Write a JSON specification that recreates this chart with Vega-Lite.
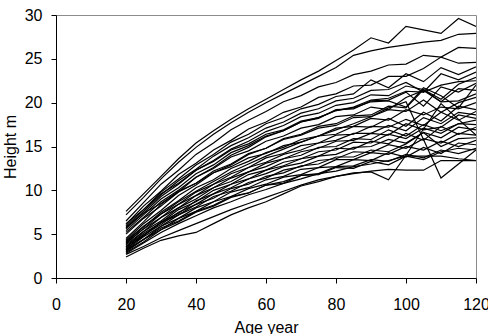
{
  "$schema": "https://vega.github.io/schema/vega-lite/v6.json",
  "width": 420,
  "height": 263,
  "autosize": {"type": "none"},
  "padding": {"left": 56, "top": 15, "right": 12, "bottom": 56},
  "background": "white",
  "config": {
    "font": "Liberation Sans",
    "view": {"stroke": "#8c8c8c", "strokeWidth": 1},
    "axis": {
      "grid": false,
      "domainColor": "black",
      "domainWidth": 1,
      "tickColor": "black",
      "tickSize": 5,
      "labelColor": "black",
      "labelFontSize": 16,
      "titleColor": "black",
      "titleFontSize": 16,
      "titleFontWeight": "normal"
    }
  },
  "data": {
    "values": [
      {"t":1,"a":20,"h":7.6},{"t":1,"a":25,"h":9.6},{"t":1,"a":30,"h":11.6},{"t":1,"a":35,"h":13.6},{"t":1,"a":40,"h":15.4},{"t":1,"a":45,"h":16.8},{"t":1,"a":50,"h":18.1},{"t":1,"a":55,"h":19.3},{"t":1,"a":60,"h":20.4},{"t":1,"a":65,"h":21.5},{"t":1,"a":70,"h":22.6},{"t":1,"a":75,"h":23.6},{"t":1,"a":80,"h":24.8},{"t":1,"a":85,"h":26.0},{"t":1,"a":90,"h":27.4},{"t":1,"a":95,"h":26.8},{"t":1,"a":100,"h":28.7},{"t":1,"a":105,"h":28.3},{"t":1,"a":110,"h":27.9},{"t":1,"a":115,"h":29.6},{"t":1,"a":120,"h":28.7},
      {"t":2,"a":20,"h":7.2},{"t":2,"a":25,"h":9.2},{"t":2,"a":30,"h":11.3},{"t":2,"a":35,"h":13.2},{"t":2,"a":40,"h":14.9},{"t":2,"a":45,"h":16.4},{"t":2,"a":50,"h":17.7},{"t":2,"a":55,"h":18.9},{"t":2,"a":60,"h":20.0},{"t":2,"a":65,"h":21.0},{"t":2,"a":70,"h":22.0},{"t":2,"a":75,"h":23.0},{"t":2,"a":80,"h":24.0},{"t":2,"a":85,"h":25.4},{"t":2,"a":90,"h":25.9},{"t":2,"a":95,"h":26.3},{"t":2,"a":100,"h":26.6},{"t":2,"a":105,"h":26.9},{"t":2,"a":110,"h":27.1},{"t":2,"a":115,"h":27.8},{"t":2,"a":120,"h":27.9},
      {"t":3,"a":20,"h":6.5},{"t":3,"a":25,"h":8.6},{"t":3,"a":30,"h":10.7},{"t":3,"a":35,"h":12.3},{"t":3,"a":40,"h":14.1},{"t":3,"a":45,"h":15.4},{"t":3,"a":50,"h":16.9},{"t":3,"a":55,"h":18.0},{"t":3,"a":60,"h":19.0},{"t":3,"a":65,"h":20.1},{"t":3,"a":70,"h":20.8},{"t":3,"a":75,"h":21.8},{"t":3,"a":80,"h":22.3},{"t":3,"a":85,"h":23.2},{"t":3,"a":90,"h":23.6},{"t":3,"a":95,"h":24.3},{"t":3,"a":100,"h":24.4},{"t":3,"a":105,"h":25.4},{"t":3,"a":110,"h":25.2},{"t":3,"a":115,"h":26.3},{"t":3,"a":120,"h":26.2},
      {"t":4,"a":20,"h":6.1},{"t":4,"a":25,"h":8.2},{"t":4,"a":30,"h":9.9},{"t":4,"a":35,"h":11.8},{"t":4,"a":40,"h":13.1},{"t":4,"a":45,"h":14.6},{"t":4,"a":50,"h":15.7},{"t":4,"a":55,"h":17.0},{"t":4,"a":60,"h":17.8},{"t":4,"a":65,"h":18.9},{"t":4,"a":70,"h":19.5},{"t":4,"a":75,"h":20.6},{"t":4,"a":80,"h":21.0},{"t":4,"a":85,"h":21.9},{"t":4,"a":90,"h":22.0},{"t":4,"a":95,"h":23.0},{"t":4,"a":100,"h":23.0},{"t":4,"a":105,"h":23.9},{"t":4,"a":110,"h":25.2},{"t":4,"a":115,"h":24.5},{"t":4,"a":120,"h":24.6},
      {"t":5,"a":20,"h":5.9},{"t":5,"a":25,"h":7.8},{"t":5,"a":30,"h":9.8},{"t":5,"a":35,"h":11.3},{"t":5,"a":40,"h":12.9},{"t":5,"a":45,"h":14.1},{"t":5,"a":50,"h":15.5},{"t":5,"a":55,"h":16.4},{"t":5,"a":60,"h":17.6},{"t":5,"a":65,"h":18.3},{"t":5,"a":70,"h":19.3},{"t":5,"a":75,"h":19.8},{"t":5,"a":80,"h":20.7},{"t":5,"a":85,"h":21.0},{"t":5,"a":90,"h":22.6},{"t":5,"a":95,"h":21.7},{"t":5,"a":100,"h":23.3},{"t":5,"a":105,"h":22.4},{"t":5,"a":110,"h":24.0},{"t":5,"a":115,"h":23.2},{"t":5,"a":120,"h":24.1},
      {"t":6,"a":20,"h":5.7},{"t":6,"a":25,"h":7.6},{"t":6,"a":30,"h":9.5},{"t":6,"a":35,"h":11.1},{"t":6,"a":40,"h":12.4},{"t":6,"a":45,"h":13.9},{"t":6,"a":50,"h":15.1},{"t":6,"a":55,"h":16.0},{"t":6,"a":60,"h":17.1},{"t":6,"a":65,"h":17.8},{"t":6,"a":70,"h":18.8},{"t":6,"a":75,"h":19.3},{"t":6,"a":80,"h":20.2},{"t":6,"a":85,"h":20.5},{"t":6,"a":90,"h":21.4},{"t":6,"a":95,"h":21.5},{"t":6,"a":100,"h":22.3},{"t":6,"a":105,"h":21.2},{"t":6,"a":110,"h":23.3},{"t":6,"a":115,"h":22.6},{"t":6,"a":120,"h":23.5},
      {"t":7,"a":20,"h":5.6},{"t":7,"a":25,"h":7.4},{"t":7,"a":30,"h":9.3},{"t":7,"a":35,"h":10.7},{"t":7,"a":40,"h":12.3},{"t":7,"a":45,"h":13.4},{"t":7,"a":50,"h":14.7},{"t":7,"a":55,"h":15.6},{"t":7,"a":60,"h":16.7},{"t":7,"a":65,"h":17.4},{"t":7,"a":70,"h":18.4},{"t":7,"a":75,"h":18.8},{"t":7,"a":80,"h":19.7},{"t":7,"a":85,"h":20.0},{"t":7,"a":90,"h":20.9},{"t":7,"a":95,"h":20.8},{"t":7,"a":100,"h":21.9},{"t":7,"a":105,"h":21.5},{"t":7,"a":110,"h":20.4},{"t":7,"a":115,"h":22.1},{"t":7,"a":120,"h":22.9},
      {"t":8,"a":20,"h":5.4},{"t":8,"a":25,"h":7.2},{"t":8,"a":30,"h":9.0},{"t":8,"a":35,"h":10.3},{"t":8,"a":40,"h":11.9},{"t":8,"a":45,"h":12.9},{"t":8,"a":50,"h":14.3},{"t":8,"a":55,"h":15.1},{"t":8,"a":60,"h":16.2},{"t":8,"a":65,"h":16.8},{"t":8,"a":70,"h":17.8},{"t":8,"a":75,"h":18.2},{"t":8,"a":80,"h":19.2},{"t":8,"a":85,"h":19.3},{"t":8,"a":90,"h":20.2},{"t":8,"a":95,"h":20.3},{"t":8,"a":100,"h":21.2},{"t":8,"a":105,"h":19.6},{"t":8,"a":110,"h":21.8},{"t":8,"a":115,"h":21.2},{"t":8,"a":120,"h":22.2},
      {"t":9,"a":20,"h":5.2},{"t":9,"a":25,"h":6.9},{"t":9,"a":30,"h":8.7},{"t":9,"a":35,"h":10.0},{"t":9,"a":40,"h":11.5},{"t":9,"a":45,"h":12.5},{"t":9,"a":50,"h":13.8},{"t":9,"a":55,"h":14.5},{"t":9,"a":60,"h":15.6},{"t":9,"a":65,"h":16.2},{"t":9,"a":70,"h":17.1},{"t":9,"a":75,"h":17.5},{"t":9,"a":80,"h":18.4},{"t":9,"a":85,"h":18.6},{"t":9,"a":90,"h":19.5},{"t":9,"a":95,"h":19.2},{"t":9,"a":100,"h":20.6},{"t":9,"a":105,"h":21.4},{"t":9,"a":110,"h":20.1},{"t":9,"a":115,"h":21.6},{"t":9,"a":120,"h":21.4},
      {"t":10,"a":20,"h":5.0},{"t":10,"a":25,"h":6.8},{"t":10,"a":30,"h":8.2},{"t":10,"a":35,"h":9.8},{"t":10,"a":40,"h":10.8},{"t":10,"a":45,"h":12.2},{"t":10,"a":50,"h":13.0},{"t":10,"a":55,"h":14.2},{"t":10,"a":60,"h":14.8},{"t":10,"a":65,"h":15.8},{"t":10,"a":70,"h":16.3},{"t":10,"a":75,"h":17.1},{"t":10,"a":80,"h":17.4},{"t":10,"a":85,"h":18.3},{"t":10,"a":90,"h":18.4},{"t":10,"a":95,"h":19.2},{"t":10,"a":100,"h":19.0},{"t":10,"a":105,"h":20.3},{"t":10,"a":110,"h":18.9},{"t":10,"a":115,"h":20.0},{"t":10,"a":120,"h":20.6},
      {"t":11,"a":20,"h":5.8},{"t":11,"a":25,"h":7.4},{"t":11,"a":30,"h":8.5},{"t":11,"a":35,"h":9.9},{"t":11,"a":40,"h":10.8},{"t":11,"a":45,"h":12.0},{"t":11,"a":50,"h":12.7},{"t":11,"a":55,"h":13.7},{"t":11,"a":60,"h":14.2},{"t":11,"a":65,"h":15.1},{"t":11,"a":70,"h":15.5},{"t":11,"a":75,"h":16.2},{"t":11,"a":80,"h":16.4},{"t":11,"a":85,"h":17.3},{"t":11,"a":90,"h":17.2},{"t":11,"a":95,"h":18.2},{"t":11,"a":100,"h":17.3},{"t":11,"a":105,"h":18.9},{"t":11,"a":110,"h":17.9},{"t":11,"a":115,"h":19.6},{"t":11,"a":120,"h":19.2},
      {"t":12,"a":20,"h":6.2},{"t":12,"a":25,"h":7.8},{"t":12,"a":30,"h":9.6},{"t":12,"a":35,"h":10.8},{"t":12,"a":40,"h":12.3},{"t":12,"a":45,"h":13.3},{"t":12,"a":50,"h":14.6},{"t":12,"a":55,"h":15.3},{"t":12,"a":60,"h":16.4},{"t":12,"a":65,"h":16.9},{"t":12,"a":70,"h":17.9},{"t":12,"a":75,"h":18.3},{"t":12,"a":80,"h":19.1},{"t":12,"a":85,"h":19.4},{"t":12,"a":90,"h":20.1},{"t":12,"a":95,"h":20.2},{"t":12,"a":100,"h":19.5},{"t":12,"a":105,"h":21.7},{"t":12,"a":110,"h":20.8},{"t":12,"a":115,"h":19.4},{"t":12,"a":120,"h":22.0},
      {"t":13,"a":20,"h":4.5},{"t":13,"a":25,"h":6.4},{"t":13,"a":30,"h":8.4},{"t":13,"a":35,"h":9.8},{"t":13,"a":40,"h":11.5},{"t":13,"a":45,"h":12.6},{"t":13,"a":50,"h":14.0},{"t":13,"a":55,"h":14.9},{"t":13,"a":60,"h":16.1},{"t":13,"a":65,"h":16.8},{"t":13,"a":70,"h":17.8},{"t":13,"a":75,"h":18.3},{"t":13,"a":80,"h":19.1},{"t":13,"a":85,"h":19.5},{"t":13,"a":90,"h":20.3},{"t":13,"a":95,"h":20.5},{"t":13,"a":100,"h":21.3},{"t":13,"a":105,"h":21.2},{"t":13,"a":110,"h":22.0},{"t":13,"a":115,"h":22.4},{"t":13,"a":120,"h":22.5},
      {"t":14,"a":20,"h":4.3},{"t":14,"a":25,"h":6.2},{"t":14,"a":30,"h":7.7},{"t":14,"a":35,"h":9.4},{"t":14,"a":40,"h":10.6},{"t":14,"a":45,"h":12.0},{"t":14,"a":50,"h":12.9},{"t":14,"a":55,"h":14.1},{"t":14,"a":60,"h":14.8},{"t":14,"a":65,"h":15.9},{"t":14,"a":70,"h":16.4},{"t":14,"a":75,"h":17.3},{"t":14,"a":80,"h":17.6},{"t":14,"a":85,"h":18.5},{"t":14,"a":90,"h":18.6},{"t":14,"a":95,"h":19.6},{"t":14,"a":100,"h":19.4},{"t":14,"a":105,"h":21.5},{"t":14,"a":110,"h":20.1},{"t":14,"a":115,"h":20.2},{"t":14,"a":120,"h":21.0},
      {"t":15,"a":20,"h":4.1},{"t":15,"a":25,"h":5.8},{"t":15,"a":30,"h":7.5},{"t":15,"a":35,"h":8.8},{"t":15,"a":40,"h":10.3},{"t":15,"a":45,"h":11.2},{"t":15,"a":50,"h":12.5},{"t":15,"a":55,"h":13.3},{"t":15,"a":60,"h":14.3},{"t":15,"a":65,"h":14.9},{"t":15,"a":70,"h":15.8},{"t":15,"a":75,"h":16.2},{"t":15,"a":80,"h":17.1},{"t":15,"a":85,"h":17.3},{"t":15,"a":90,"h":18.2},{"t":15,"a":95,"h":18.0},{"t":15,"a":100,"h":19.2},{"t":15,"a":105,"h":18.6},{"t":15,"a":110,"h":19.5},{"t":15,"a":115,"h":19.3},{"t":15,"a":120,"h":20.0},
      {"t":16,"a":20,"h":4.0},{"t":16,"a":25,"h":5.6},{"t":16,"a":30,"h":7.3},{"t":16,"a":35,"h":8.4},{"t":16,"a":40,"h":9.8},{"t":16,"a":45,"h":10.7},{"t":16,"a":50,"h":11.9},{"t":16,"a":55,"h":12.6},{"t":16,"a":60,"h":13.7},{"t":16,"a":65,"h":14.2},{"t":16,"a":70,"h":15.1},{"t":16,"a":75,"h":15.4},{"t":16,"a":80,"h":16.3},{"t":16,"a":85,"h":16.4},{"t":16,"a":90,"h":17.3},{"t":16,"a":95,"h":17.2},{"t":16,"a":100,"h":18.1},{"t":16,"a":105,"h":17.4},{"t":16,"a":110,"h":18.9},{"t":16,"a":115,"h":18.0},{"t":16,"a":120,"h":19.0},
      {"t":17,"a":20,"h":3.9},{"t":17,"a":25,"h":5.6},{"t":17,"a":30,"h":6.9},{"t":17,"a":35,"h":8.4},{"t":17,"a":40,"h":9.4},{"t":17,"a":45,"h":10.7},{"t":17,"a":50,"h":11.5},{"t":17,"a":55,"h":12.6},{"t":17,"a":60,"h":13.2},{"t":17,"a":65,"h":14.1},{"t":17,"a":70,"h":14.6},{"t":17,"a":75,"h":15.4},{"t":17,"a":80,"h":15.7},{"t":17,"a":85,"h":16.5},{"t":17,"a":90,"h":16.5},{"t":17,"a":95,"h":17.4},{"t":17,"a":100,"h":16.8},{"t":17,"a":105,"h":18.3},{"t":17,"a":110,"h":17.6},{"t":17,"a":115,"h":18.9},{"t":17,"a":120,"h":18.6},
      {"t":18,"a":20,"h":3.8},{"t":18,"a":25,"h":5.3},{"t":18,"a":30,"h":6.9},{"t":18,"a":35,"h":8.0},{"t":18,"a":40,"h":9.4},{"t":18,"a":45,"h":10.3},{"t":18,"a":50,"h":11.4},{"t":18,"a":55,"h":12.1},{"t":18,"a":60,"h":13.1},{"t":18,"a":65,"h":13.6},{"t":18,"a":70,"h":14.4},{"t":18,"a":75,"h":14.8},{"t":18,"a":80,"h":15.6},{"t":18,"a":85,"h":15.7},{"t":18,"a":90,"h":16.5},{"t":18,"a":95,"h":16.3},{"t":18,"a":100,"h":17.6},{"t":18,"a":105,"h":16.9},{"t":18,"a":110,"h":17.2},{"t":18,"a":115,"h":18.6},{"t":18,"a":120,"h":18.2},
      {"t":19,"a":20,"h":3.6},{"t":19,"a":25,"h":5.3},{"t":19,"a":30,"h":6.5},{"t":19,"a":35,"h":8.0},{"t":19,"a":40,"h":9.0},{"t":19,"a":45,"h":10.3},{"t":19,"a":50,"h":11.0},{"t":19,"a":55,"h":12.1},{"t":19,"a":60,"h":12.7},{"t":19,"a":65,"h":13.6},{"t":19,"a":70,"h":14.0},{"t":19,"a":75,"h":14.9},{"t":19,"a":80,"h":15.0},{"t":19,"a":85,"h":15.9},{"t":19,"a":90,"h":15.8},{"t":19,"a":95,"h":16.9},{"t":19,"a":100,"h":16.2},{"t":19,"a":105,"h":17.5},{"t":19,"a":110,"h":16.8},{"t":19,"a":115,"h":17.6},{"t":19,"a":120,"h":18.0},
      {"t":20,"a":20,"h":3.5},{"t":20,"a":25,"h":5.1},{"t":20,"a":30,"h":6.3},{"t":20,"a":35,"h":7.8},{"t":20,"a":40,"h":8.7},{"t":20,"a":45,"h":10.0},{"t":20,"a":50,"h":10.7},{"t":20,"a":55,"h":11.8},{"t":20,"a":60,"h":12.3},{"t":20,"a":65,"h":13.2},{"t":20,"a":70,"h":13.6},{"t":20,"a":75,"h":14.4},{"t":20,"a":80,"h":14.6},{"t":20,"a":85,"h":15.5},{"t":20,"a":90,"h":15.4},{"t":20,"a":95,"h":16.4},{"t":20,"a":100,"h":15.9},{"t":20,"a":105,"h":17.1},{"t":20,"a":110,"h":16.5},{"t":20,"a":115,"h":17.6},{"t":20,"a":120,"h":17.5},
      {"t":21,"a":20,"h":3.4},{"t":21,"a":25,"h":4.8},{"t":21,"a":30,"h":6.4},{"t":21,"a":35,"h":7.4},{"t":21,"a":40,"h":8.8},{"t":21,"a":45,"h":9.6},{"t":21,"a":50,"h":10.7},{"t":21,"a":55,"h":11.3},{"t":21,"a":60,"h":12.3},{"t":21,"a":65,"h":12.8},{"t":21,"a":70,"h":13.6},{"t":21,"a":75,"h":13.9},{"t":21,"a":80,"h":14.8},{"t":21,"a":85,"h":14.7},{"t":21,"a":90,"h":15.6},{"t":21,"a":95,"h":15.3},{"t":21,"a":100,"h":16.5},{"t":21,"a":105,"h":15.7},{"t":21,"a":110,"h":17.3},{"t":21,"a":115,"h":16.4},{"t":21,"a":120,"h":17.2},
      {"t":22,"a":20,"h":3.3},{"t":22,"a":25,"h":4.9},{"t":22,"a":30,"h":6.1},{"t":22,"a":35,"h":7.5},{"t":22,"a":40,"h":8.4},{"t":22,"a":45,"h":9.6},{"t":22,"a":50,"h":10.3},{"t":22,"a":55,"h":11.3},{"t":22,"a":60,"h":11.9},{"t":22,"a":65,"h":12.7},{"t":22,"a":70,"h":13.1},{"t":22,"a":75,"h":13.9},{"t":22,"a":80,"h":14.1},{"t":22,"a":85,"h":14.9},{"t":22,"a":90,"h":15.0},{"t":22,"a":95,"h":15.8},{"t":22,"a":100,"h":15.4},{"t":22,"a":105,"h":16.6},{"t":22,"a":110,"h":16.0},{"t":22,"a":115,"h":17.2},{"t":22,"a":120,"h":16.9},
      {"t":23,"a":20,"h":3.2},{"t":23,"a":25,"h":4.7},{"t":23,"a":30,"h":5.9},{"t":23,"a":35,"h":7.2},{"t":23,"a":40,"h":8.1},{"t":23,"a":45,"h":9.3},{"t":23,"a":50,"h":9.9},{"t":23,"a":55,"h":10.9},{"t":23,"a":60,"h":11.4},{"t":23,"a":65,"h":12.3},{"t":23,"a":70,"h":12.7},{"t":23,"a":75,"h":13.4},{"t":23,"a":80,"h":13.6},{"t":23,"a":85,"h":14.4},{"t":23,"a":90,"h":14.3},{"t":23,"a":95,"h":15.2},{"t":23,"a":100,"h":14.8},{"t":23,"a":105,"h":15.9},{"t":23,"a":110,"h":15.4},{"t":23,"a":115,"h":16.5},{"t":23,"a":120,"h":16.3},
      {"t":24,"a":20,"h":3.1},{"t":24,"a":25,"h":4.4},{"t":24,"a":30,"h":5.9},{"t":24,"a":35,"h":6.8},{"t":24,"a":40,"h":8.0},{"t":24,"a":45,"h":8.7},{"t":24,"a":50,"h":9.8},{"t":24,"a":55,"h":10.3},{"t":24,"a":60,"h":11.2},{"t":24,"a":65,"h":11.6},{"t":24,"a":70,"h":12.4},{"t":24,"a":75,"h":12.6},{"t":24,"a":80,"h":13.5},{"t":24,"a":85,"h":13.5},{"t":24,"a":90,"h":14.3},{"t":24,"a":95,"h":14.1},{"t":24,"a":100,"h":15.0},{"t":24,"a":105,"h":14.6},{"t":24,"a":110,"h":15.6},{"t":24,"a":115,"h":15.0},{"t":24,"a":120,"h":15.7},
      {"t":25,"a":20,"h":3.0},{"t":25,"a":25,"h":4.4},{"t":25,"a":30,"h":5.5},{"t":25,"a":35,"h":6.8},{"t":25,"a":40,"h":7.6},{"t":25,"a":45,"h":8.7},{"t":25,"a":50,"h":9.3},{"t":25,"a":55,"h":10.2},{"t":25,"a":60,"h":10.7},{"t":25,"a":65,"h":11.5},{"t":25,"a":70,"h":11.8},{"t":25,"a":75,"h":12.6},{"t":25,"a":80,"h":12.7},{"t":25,"a":85,"h":13.5},{"t":25,"a":90,"h":13.4},{"t":25,"a":95,"h":14.3},{"t":25,"a":100,"h":13.8},{"t":25,"a":105,"h":14.9},{"t":25,"a":110,"h":14.2},{"t":25,"a":115,"h":15.4},{"t":25,"a":120,"h":15.2},
      {"t":26,"a":20,"h":2.9},{"t":26,"a":25,"h":4.1},{"t":26,"a":30,"h":5.5},{"t":26,"a":35,"h":6.4},{"t":26,"a":40,"h":7.5},{"t":26,"a":45,"h":8.2},{"t":26,"a":50,"h":9.2},{"t":26,"a":55,"h":9.7},{"t":26,"a":60,"h":10.6},{"t":26,"a":65,"h":11.0},{"t":26,"a":70,"h":11.7},{"t":26,"a":75,"h":11.9},{"t":26,"a":80,"h":12.7},{"t":26,"a":85,"h":12.8},{"t":26,"a":90,"h":13.5},{"t":26,"a":95,"h":13.3},{"t":26,"a":100,"h":14.1},{"t":26,"a":105,"h":13.7},{"t":26,"a":110,"h":14.6},{"t":26,"a":115,"h":14.2},{"t":26,"a":120,"h":14.8},
      {"t":27,"a":20,"h":2.8},{"t":27,"a":25,"h":4.0},{"t":27,"a":30,"h":5.2},{"t":27,"a":35,"h":6.2},{"t":27,"a":40,"h":7.1},{"t":27,"a":45,"h":8.0},{"t":27,"a":50,"h":8.7},{"t":27,"a":55,"h":9.5},{"t":27,"a":60,"h":10.1},{"t":27,"a":65,"h":10.8},{"t":27,"a":70,"h":11.3},{"t":27,"a":75,"h":11.9},{"t":27,"a":80,"h":12.2},{"t":27,"a":85,"h":12.7},{"t":27,"a":90,"h":13.0},{"t":27,"a":95,"h":13.4},{"t":27,"a":100,"h":13.9},{"t":27,"a":105,"h":13.9},{"t":27,"a":110,"h":13.9},{"t":27,"a":115,"h":13.6},{"t":27,"a":120,"h":13.4},
      {"t":28,"a":20,"h":2.4},{"t":28,"a":25,"h":3.4},{"t":28,"a":30,"h":4.3},{"t":28,"a":35,"h":4.8},{"t":28,"a":40,"h":5.2},{"t":28,"a":45,"h":6.2},{"t":28,"a":50,"h":7.2},{"t":28,"a":55,"h":8.0},{"t":28,"a":60,"h":8.7},{"t":28,"a":65,"h":9.6},{"t":28,"a":70,"h":10.5},{"t":28,"a":75,"h":11.0},{"t":28,"a":80,"h":11.6},{"t":28,"a":85,"h":11.9},{"t":28,"a":90,"h":12.2},{"t":28,"a":95,"h":12.4},{"t":28,"a":100,"h":12.3},{"t":28,"a":105,"h":12.3},{"t":28,"a":110,"h":13.4},{"t":28,"a":115,"h":13.4},{"t":28,"a":120,"h":13.4},
      {"t":29,"a":20,"h":3.6},{"t":29,"a":25,"h":4.9},{"t":29,"a":30,"h":6.3},{"t":29,"a":35,"h":7.2},{"t":29,"a":40,"h":8.4},{"t":29,"a":45,"h":9.1},{"t":29,"a":50,"h":10.2},{"t":29,"a":55,"h":10.7},{"t":29,"a":60,"h":11.6},{"t":29,"a":65,"h":12.0},{"t":29,"a":70,"h":12.8},{"t":29,"a":75,"h":13.0},{"t":29,"a":80,"h":13.8},{"t":29,"a":85,"h":13.8},{"t":29,"a":90,"h":14.6},{"t":29,"a":95,"h":14.4},{"t":29,"a":100,"h":15.3},{"t":29,"a":105,"h":16.6},{"t":29,"a":110,"h":15.0},{"t":29,"a":115,"h":15.9},{"t":29,"a":120,"h":16.0},
      {"t":30,"a":20,"h":3.2},{"t":30,"a":25,"h":4.4},{"t":30,"a":30,"h":5.7},{"t":30,"a":35,"h":6.5},{"t":30,"a":40,"h":7.6},{"t":30,"a":45,"h":8.3},{"t":30,"a":50,"h":9.3},{"t":30,"a":55,"h":9.7},{"t":30,"a":60,"h":10.6},{"t":30,"a":65,"h":10.8},{"t":30,"a":70,"h":11.7},{"t":30,"a":75,"h":11.8},{"t":30,"a":80,"h":12.6},{"t":30,"a":85,"h":12.5},{"t":30,"a":90,"h":13.3},{"t":30,"a":95,"h":12.9},{"t":30,"a":100,"h":13.9},{"t":30,"a":105,"h":13.5},{"t":30,"a":110,"h":14.4},{"t":30,"a":115,"h":14.8},{"t":30,"a":120,"h":14.6},
      {"t":31,"a":20,"h":2.7},{"t":31,"a":25,"h":3.6},{"t":31,"a":30,"h":4.6},{"t":31,"a":35,"h":5.4},{"t":31,"a":40,"h":6.2},{"t":31,"a":45,"h":7.0},{"t":31,"a":50,"h":7.8},{"t":31,"a":55,"h":8.5},{"t":31,"a":60,"h":9.2},{"t":31,"a":65,"h":9.9},{"t":31,"a":70,"h":10.6},{"t":31,"a":75,"h":11.2},{"t":31,"a":80,"h":11.6},{"t":31,"a":85,"h":12.0},{"t":31,"a":90,"h":12.1},{"t":31,"a":95,"h":11.2},{"t":31,"a":100,"h":14.0},{"t":31,"a":105,"h":17.0},{"t":31,"a":110,"h":19.9},{"t":31,"a":115,"h":18.1},{"t":31,"a":120,"h":16.3},
      {"t":32,"a":20,"h":4.2},{"t":32,"a":25,"h":5.9},{"t":32,"a":30,"h":7.3},{"t":32,"a":35,"h":8.7},{"t":32,"a":40,"h":9.9},{"t":32,"a":45,"h":11.0},{"t":32,"a":50,"h":12.1},{"t":32,"a":55,"h":13.0},{"t":32,"a":60,"h":13.9},{"t":32,"a":65,"h":14.7},{"t":32,"a":70,"h":15.5},{"t":32,"a":75,"h":16.2},{"t":32,"a":80,"h":16.9},{"t":32,"a":85,"h":17.6},{"t":32,"a":90,"h":18.4},{"t":32,"a":95,"h":19.4},{"t":32,"a":100,"h":20.1},{"t":32,"a":105,"h":15.8},{"t":32,"a":110,"h":11.4},{"t":32,"a":115,"h":13.0},{"t":32,"a":120,"h":14.6}
    ]
  },
  "mark": {"type": "line", "color": "black", "strokeWidth": 1.2, "clip": true},
  "encoding": {
    "x": {
      "field": "a",
      "type": "quantitative",
      "scale": {"domain": [0, 120], "nice": false},
      "axis": {"values": [0, 20, 40, 60, 80, 100, 120], "title": "Age year", "labelPadding": 13, "titlePadding": 7, "labelOverlap": false, "labelBound": false, "labelFlush": false}
    },
    "y": {
      "field": "h",
      "type": "quantitative",
      "scale": {"domain": [0, 30], "nice": false},
      "axis": {"values": [0, 5, 10, 15, 20, 25, 30], "title": "Height m", "labelPadding": 9, "titlePadding": 6}
    },
    "detail": {"field": "t", "type": "nominal"}
  }
}
